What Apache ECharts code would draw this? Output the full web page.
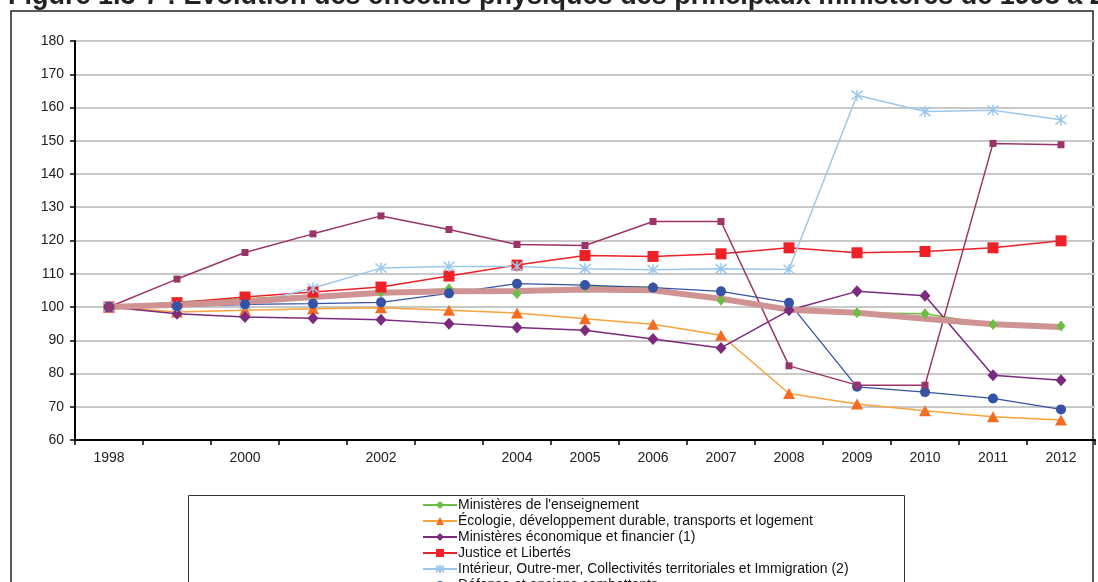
<!DOCTYPE html>
<html>
<head>
<meta charset="utf-8">
<script src="https://cdn.jsdelivr.net/npm/echarts@6/dist/echarts.min.js"></script>
<style>
html, body { margin: 0; padding: 0; background: #fff; }
#chart { width: 1098px; height: 582px; }
</style>
</head>
<body>
<div id="chart"></div>
<script>
var years = ['1998','1999','2000','2001','2002','2003','2004','2005','2006','2007','2008','2009','2010','2011','2012'];
var yearLabels = ['1998','','2000','','2002','','2004','2005','2006','2007','2008','2009','2010','2011','2012'];

var enseignement = [100, 101.5, 102.5, 103.5, 104.5, 105.5, 104, 106.2, 106, 102, 99.3, 98.3, 98, 94.7, 94.3];
var ecologie     = [100, 98.5, 99, 99.5, 99.8, 99, 98.2, 96.5, 94.8, 91.5, 74, 70.8, 68.8, 67, 66];
var economie     = [100, 98, 97, 96.6, 96.2, 95, 93.8, 93, 90.4, 87.7, 99, 104.7, 103.4, 79.5, 78];
var justice      = [100, 101.3, 103, 104.5, 106, 109.3, 112.6, 115.5, 115.2, 116, 117.8, 116.3, 116.7, 117.8, 119.9];
var interieur    = [100, 100.2, 100.6, 105.7, 111.7, 112.2, 112.2, 111.5, 111.2, 111.5, 111.3, 163.7, 158.8, 159.2, 156.3];
var defense      = [100, 100.2, 100.8, 101, 101.4, 104.1, 107, 106.6, 105.8, 104.7, 101.3, 76, 74.4, 72.5, 69.2];
var sociaux      = [100, 108.4, 116.4, 122, 127.4, 123.3, 118.8, 118.5, 125.7, 125.7, 82.3, 76.5, 76.5, 149.2, 148.8];
var ensemble     = [100, 100.7, 101.6, 103, 104.3, 104.7, 104.8, 105.3, 105, 102.5, 99.2, 98.3, 96.5, 94.8, 94];

var names = [
    "Ministères de l'enseignement",
    "Écologie, développement durable, transports et logement",
    "Ministères économique et financier (1)",
    "Justice et Libertés",
    "Intérieur, Outre-mer, Collectivités territoriales et Immigration (2)",
    "Défense et anciens combattants",
    "Ministères sociaux (3)",
    "Ensemble des ministères"
];

var myChart = echarts.init(document.getElementById('chart'));

var font = 'Liberation Sans, Arial, sans-serif';

option = {
    animation: false,
    textStyle: { fontFamily: font },
    graphic: [
        {
            type: 'text', left: 8, top: -17, z: 10,
            style: {
                text: 'Figure 1.3-7 : Évolution des effectifs physiques des principaux ministères de 1998 à 2012',
                font: 'bold 27px ' + font, fill: '#222'
            }
        },
        {
            type: 'rect', shape: { x: 11, y: 11, width: 1082, height: 620 },
            style: { fill: 'none', stroke: '#222', lineWidth: 1.5 }, silent: true
        },
        {
            type: 'rect', shape: { x: 188.5, y: 495.5, width: 716, height: 120 },
            style: { fill: 'none', stroke: '#333', lineWidth: 1 }, silent: true
        }
    ],
    legend: {
        orient: 'vertical',
        left: 422,
        top: 498,
        height: 300,
        padding: 0,
        itemWidth: 34,
        itemHeight: 10,
        itemGap: 2,
        textStyle: { fontSize: 14, lineHeight: 14, color: '#111', fontFamily: font, padding: [0, 0, 0, -4] },
        data: names
    },
    grid: { left: 75, right: 3, top: 41, bottom: 142, containLabel: false },
    xAxis: {
        type: 'category',
        data: years,
        boundaryGap: true,
        axisLine: { lineStyle: { color: '#000', width: 2 } },
        axisTick: { show: true, length: 5, lineStyle: { color: '#000', width: 1.5 } },
        axisLabel: {
            interval: 0, margin: 11, fontSize: 14, color: '#222',
            formatter: function (v, i) { return yearLabels[i]; }
        }
    },
    yAxis: {
        type: 'value',
        min: 60, max: 180, interval: 10,
        axisLine: { show: true, lineStyle: { color: '#000', width: 2 } },
        axisTick: { show: true, length: 5, lineStyle: { color: '#000', width: 1.5 } },
        axisLabel: { margin: 11, fontSize: 14, color: '#222' },
        splitLine: { lineStyle: { color: '#c8c8c8', width: 2 } }
    },
    series: [
        {
            name: names[0], type: 'line', data: enseignement,
            symbol: 'diamond', symbolSize: [9, 11],
            itemStyle: { color: '#6cbd45' }, lineStyle: { color: '#6cbd45', width: 1.5 }
        },
        {
            name: names[1], type: 'line', data: ecologie,
            symbol: 'triangle', symbolSize: [12, 11],
            itemStyle: { color: '#f36c21' }, lineStyle: { color: '#f9a33b', width: 1.5 }
        },
        {
            name: names[2], type: 'line', data: economie,
            symbol: 'diamond', symbolSize: [11, 12],
            itemStyle: { color: '#7b2a7e' }, lineStyle: { color: '#7b2a7e', width: 1.5 }
        },
        {
            name: names[3], type: 'line', data: justice,
            symbol: 'rect', symbolSize: 11,
            itemStyle: { color: '#ee2028' }, lineStyle: { color: '#ee2028', width: 1.5 }
        },
        {
            name: names[4], type: 'line', data: interieur,
            symbol: 'path://M0,0L10,10M10,0L0,10M5,-1L5,11', symbolSize: 11,
            itemStyle: { color: 'rgba(0,0,0,0)', borderColor: '#9cc7ea', borderWidth: 1.5 },
            lineStyle: { color: '#9cc7ea', width: 1.5 }
        },
        {
            name: names[5], type: 'line', data: defense,
            symbol: 'circle', symbolSize: 10,
            itemStyle: { color: '#3652a5' }, lineStyle: { color: '#3652a5', width: 1.3 }
        },
        {
            name: names[6], type: 'line', data: sociaux,
            symbol: 'rect', symbolSize: 7,
            itemStyle: { color: '#9b3468' }, lineStyle: { color: '#9b3468', width: 1.5 }
        },
        {
            name: names[7], type: 'line', data: ensemble,
            symbol: 'none', smooth: false,
            itemStyle: { color: '#d09394' }, lineStyle: { color: '#d09394', width: 6 }
        }
    ]
};

myChart.setOption(option);
</script>
</body>
</html>
